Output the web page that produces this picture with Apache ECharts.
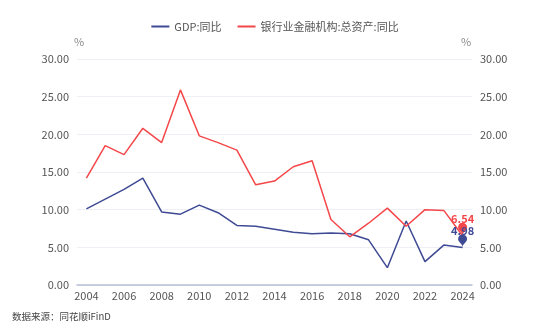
<!DOCTYPE html>
<html><head><meta charset="utf-8">
<script src="https://cdn.jsdelivr.net/npm/echarts@6/dist/echarts.min.js"></script>
<style>html,body{margin:0;padding:0;background:#fff}#c{width:550px;height:336px}</style>
</head><body><div id="c"></div>
<script>
const years = ['2004','2005','2006','2007','2008','2009','2010','2011','2012','2013','2014','2015','2016','2017','2018','2019','2020','2021','2022','2023','2024'];
const gdp = [10.1,11.4,12.7,14.2,9.7,9.4,10.6,9.6,7.9,7.8,7.4,7.0,6.8,6.9,6.8,6.0,2.3,8.5,3.1,5.3,4.98];
const bankAssets = [14.2,18.5,17.3,20.8,18.9,25.9,19.8,18.9,17.9,13.3,13.8,15.7,16.5,8.7,6.4,8.2,10.2,7.8,10.0,9.9,6.54];
const yTicks = [0,5,10,15,20,25,30];
const seriesNames = ['GDP:同比','银行业金融机构:总资产:同比'];
const colors = ['#3f4a94','#f4474a'];

const chart = echarts.init(document.getElementById('c'));
const font = 'Noto Sans CJK SC';
function yAxis(pos){
  return {
    type:'value', position:pos, min:yTicks[0], max:yTicks[yTicks.length-1], interval:5,
    name:'%', nameGap:12,
    nameTextStyle:{color:'#888',fontSize:11,fontFamily:font, padding: pos==='left'?[0,0,0,4]:[0,12,0,0]},
    axisLine:{show:false}, axisTick:{show:false},
    axisLabel:{color:'#555',fontSize:11,fontFamily:font,margin:8,formatter:v=>v.toFixed(2)},
    splitLine:{show:pos==='left',lineStyle:{color:'#eef0f6',width:1}}
  };
}
function mk(i, arr){
  const last = arr.length-1;
  return {
    symbol:'pin', symbolSize:15,
    itemStyle:{color:colors[i]},
    label:{show:true, position:'top', distance:-2, color:colors[i], fontSize:11, fontWeight:'bold', fontFamily:font,
      formatter:p=>Number(p.value).toFixed(2)},
    data:[{coord:[last, arr[last]], value:arr[last]}]
  };
}
chart.setOption({
  animation:false,
  color:colors,
  legend:{top:16,left:'center',itemWidth:18,itemHeight:2,itemGap:16,
    textStyle:{color:'#555',fontSize:11,fontFamily:font},
    data:seriesNames.map(n=>({name:n,icon:'rect'}))},
  grid:{left:77,right:78,top:59,bottom:51},
  xAxis:{type:'category',data:years,boundaryGap:true,
    axisLine:{lineStyle:{color:'#b8bfd8',width:1.5}},axisTick:{show:false},
    axisLabel:{color:'#555',fontSize:11,fontFamily:font,interval:1,margin:5}},
  yAxis:[yAxis('left'),yAxis('right')],
  series:[
    {name:seriesNames[0],type:'line',data:gdp,yAxisIndex:0,symbol:'none',lineStyle:{width:1.5,color:colors[0]},markPoint:mk(0,gdp)},
    {name:seriesNames[1],type:'line',data:bankAssets,yAxisIndex:1,symbol:'none',lineStyle:{width:1.5,color:colors[1]},markPoint:mk(1,bankAssets)}
  ],
  graphic:[{type:'text',left:12,top:312,style:{text:'数据来源：同花顺iFinD',fill:'#444',fontSize:9.5,fontFamily:font}}]
});
</script></body></html>
